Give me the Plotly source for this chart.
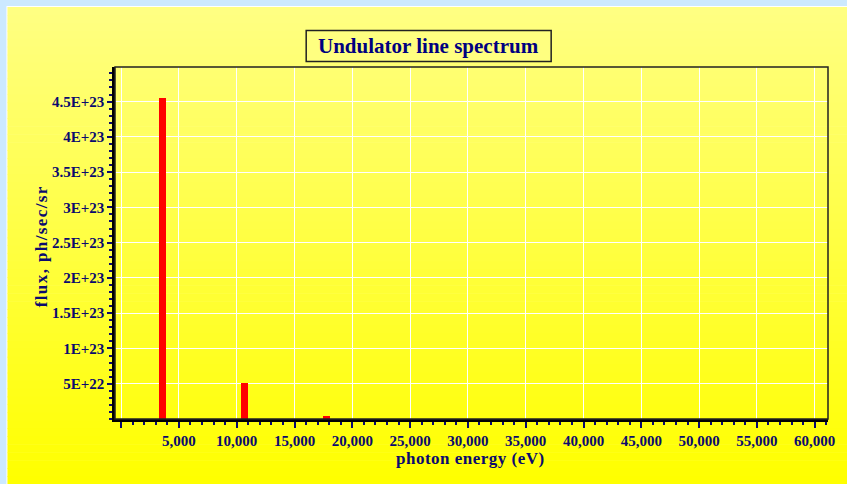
import plotly.graph_objects as go

# Data
energy_ev = [3550, 10650, 17750]
flux = [4.55e23, 5.05e22, 3.6e21]
x_tick_vals = [0, 5000, 10000, 15000, 20000, 25000, 30000, 35000, 40000, 45000, 50000, 55000, 60000]
x_tick_text = ["", "5,000", "10,000", "15,000", "20,000", "25,000", "30,000", "35,000",
               "40,000", "45,000", "50,000", "55,000", "60,000"]
y_tick_vals = [5e22, 1e23, 1.5e23, 2e23, 2.5e23, 3e23, 3.5e23, 4e23, 4.5e23]
y_tick_text = ["5E+22", "1E+23", "1.5E+23", "2E+23", "2.5E+23", "3E+23", "3.5E+23", "4E+23", "4.5E+23"]

W, H = 847, 484
L, R, T, B = 115, 16, 67, 65
pw, ph = W - L - R, H - T - B

def px(x):
    return (x - L) / pw

def py(y):
    return (H - B - y) / ph

NAVY = "#0a0a6e"
FONT = "Liberation Serif"

fig = go.Figure()
fig.add_trace(go.Bar(x=energy_ev, y=flux, width=580, marker=dict(color="#ff0000", line=dict(width=0)),
                     hoverinfo="skip"))

shapes = []
shapes.append(dict(type="rect", xref="paper", yref="paper", x0=px(6), x1=px(W + 5), y0=py(6), y1=py(H + 5),
                   fillcolor="white", line=dict(width=0), layer="below"))
n = 60
top, bot = 7, H
for i in range(n):
    y0 = top + (bot - top) * i / n
    y1 = top + (bot - top) * (i + 1) / n + 0.6
    f = i / (n - 1)
    b = int(round(130 * (1 - f)))
    shapes.append(dict(type="rect", xref="paper", yref="paper", x0=px(7), x1=px(W + 5), y0=py(y0), y1=py(y1),
                       fillcolor=f"rgb(255,255,{b})", line=dict(width=0), layer="below"))
# title box
shapes.append(dict(type="rect", xref="paper", yref="paper", x0=px(307), x1=px(553), y0=py(30.5), y1=py(61.5),
                   fillcolor="#ffff80", line=dict(color="#222222", width=1.5), layer="above"))
# top and right frame of plot area
shapes.append(dict(type="rect", xref="paper", yref="paper", x0=0, x1=1, y0=0, y1=1,
                   line=dict(color="#222222", width=1.5), fillcolor="rgba(0,0,0,0)", layer="above"))

fig.update_layout(
    width=W, height=H,
    margin=dict(l=L, r=R, t=T, b=B),
    paper_bgcolor="#cce9ff",
    plot_bgcolor="rgba(0,0,0,0)",
    showlegend=False,
    shapes=shapes,
    bargap=0,
    annotations=[
        dict(text="<b>Undulator line spectrum</b>", xref="paper", yref="paper", x=px(430), y=py(46),
             xanchor="center", yanchor="middle", showarrow=False,
             font=dict(family=FONT, size=21, color="#000080")),
        dict(text="<b><span style='letter-spacing:0.5px'>photon energy (eV)</span></b>", xref="paper", yref="paper",
             x=px(472), y=py(458), xanchor="center", yanchor="middle", showarrow=False,
             font=dict(family=FONT, size=17, color=NAVY)),
        dict(text="<b><span style='letter-spacing:1.4px'>flux, ph/sec/sr</span></b>", xref="paper", yref="paper",
             x=px(41), y=py(246), xanchor="center", yanchor="middle", showarrow=False, textangle=-90,
             font=dict(family=FONT, size=17, color=NAVY)),
    ],
)

fig.update_xaxes(
    range=[-530, 61150],
    tickmode="array", tickvals=x_tick_vals, ticktext=x_tick_text,
    showgrid=True, gridcolor="white", gridwidth=1.2,
    showline=True, linecolor="black", linewidth=2.5,
    ticks="outside", ticklen=6, tickwidth=2, tickcolor=NAVY,
    minor=dict(dtick=1000, tick0=0, ticks="outside", ticklen=3, tickwidth=1.5, tickcolor=NAVY, showgrid=False),
    tickfont=dict(family=FONT, size=15, color=NAVY, weight="bold"),
    zeroline=False,
)
fig.update_yaxes(
    range=[0, 4.99e23],
    tickmode="array", tickvals=y_tick_vals, ticktext=y_tick_text,
    showgrid=True, gridcolor="white", gridwidth=1.2,
    showline=True, linecolor="black", linewidth=2.5,
    ticks="outside", ticklen=5, tickwidth=2, tickcolor=NAVY,
    minor=dict(dtick=1e22, tick0=0, ticks="outside", ticklen=3, tickwidth=1.5, tickcolor=NAVY, showgrid=False),
    tickfont=dict(family=FONT, size=15, color=NAVY, weight="bold"),
    zeroline=False,
)

fig.write_html("out.html", config={"displayModeBar": False},
               post_script="document.body.style.margin='0';")
